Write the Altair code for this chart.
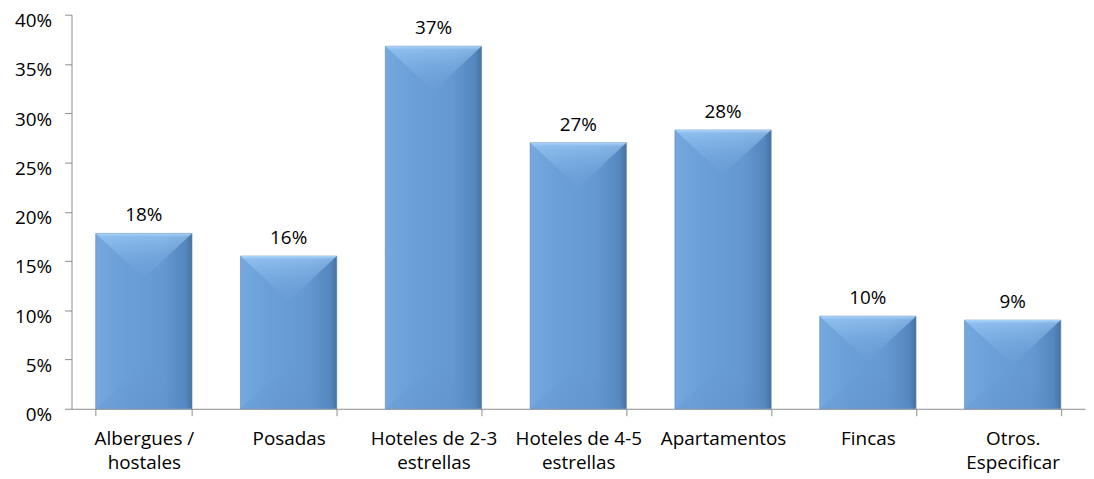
import altair as alt
import pandas as pd

categories = [
    "Albergues / hostales",
    "Posadas",
    "Hoteles de 2-3 estrellas",
    "Hoteles de 4-5 estrellas",
    "Apartamentos",
    "Fincas",
    "Otros. Especificar",
]
axis_labels = [
    "Albergues /|hostales",
    "Posadas",
    "Hoteles de 2-3|estrellas",
    "Hoteles de 4-5|estrellas",
    "Apartamentos",
    "Fincas",
    "Otros.|Especificar",
]
values = [0.178, 0.155, 0.368, 0.270, 0.283, 0.094, 0.090]
value_labels = ["18%", "16%", "37%", "27%", "28%", "10%", "9%"]
y_ticks = [0, 0.05, 0.10, 0.15, 0.20, 0.25, 0.30, 0.35, 0.40]

df = pd.DataFrame({
    "cat": axis_labels,
    "value": values,
    "label": value_labels,
})
df["zero"] = 0.0

FONT = "Open Sans"
FS = 19
FSX = 19

PLOT_W = 1021
PAD_IN = 0.335
PAD_OUT = 0.167
BAR_W = PLOT_W / (len(categories) - PAD_IN + 2 * PAD_OUT) * (1 - PAD_IN)

x = alt.X(
    "cat:N",
    sort=None,
    title=None,
    scale=alt.Scale(paddingInner=PAD_IN, paddingOuter=PAD_OUT),
    axis=alt.Axis(
        labelExpr="split(datum.label, '|')",
        labelAngle=0,
        tickBand="extent",
        tickSize=7,
        labelPadding=14,
        labelFontSize=FSX,
        labelFont=FONT,
        labelColor="#000000",
        labelLineHeight=24,
        domainColor="#8c8c8c",
        tickColor="#8c8c8c",
        labelBaseline="top",
    ),
)
y = alt.Y(
    "value:Q",
    title=None,
    scale=alt.Scale(domain=[0, 0.4], nice=False),
    axis=alt.Axis(
        values=y_ticks,
        format=".0%",
        grid=False,
        tickSize=7,
        labelPadding=13,
        labelBaseline="top",
        labelOffset=-3,
        labelFontSize=FS,
        labelFont=FONT,
        labelColor="#000000",
        domainColor="#8c8c8c",
        tickColor="#8c8c8c",
    ),
)

base_grad = alt.Gradient(
    gradient="linear",
    x1=0, x2=1, y1=0, y2=0,
    stops=[
        alt.GradientStop(color="#74a8df", offset=0),
        alt.GradientStop(color="#6a9fd7", offset=0.3),
        alt.GradientStop(color="#6498d0", offset=0.7),
        alt.GradientStop(color="#5587bf", offset=0.93),
        alt.GradientStop(color="#46729f", offset=1),
    ],
)
top_grad = alt.Gradient(
    gradient="linear",
    x1=0, x2=0, y1=0, y2=1,
    stops=[
        alt.GradientStop(color="rgba(175,215,252,0.95)", offset=0),
        alt.GradientStop(color="rgba(160,205,248,0.6)", offset=0.08),
        alt.GradientStop(color="rgba(140,190,240,0.25)", offset=0.6),
        alt.GradientStop(color="rgba(130,180,235,0.05)", offset=1),
    ],
)
bot_grad = alt.Gradient(
    gradient="linear",
    x1=0, x2=0, y1=0, y2=1,
    stops=[
        alt.GradientStop(color="rgba(90,140,200,0.0)", offset=0),
        alt.GradientStop(color="rgba(90,140,200,0.25)", offset=1),
    ],
)

bars = alt.Chart(df).mark_bar(fill=base_grad, stroke="#5a84b4", strokeWidth=0.6).encode(x=x, y=y)

top_tri = alt.Chart(df).mark_point(
    shape="M-1,0L1,0L0,0.93Z",
    size=BAR_W ** 2,
    filled=True,
    fill=top_grad,
    opacity=1,
    strokeWidth=0,
).encode(x=x, y=alt.Y("value:Q", title=None))

bot_tri = alt.Chart(df).mark_point(
    shape="M-1,0L1,0L0,-0.93Z",
    size=BAR_W ** 2,
    filled=True,
    fill=bot_grad,
    opacity=1,
    strokeWidth=0,
).encode(x=x, y=alt.Y("zero:Q", title=None))

text = alt.Chart(df).mark_text(
    baseline="alphabetic", dy=-12, fontSize=FS, font=FONT, color="#000000"
).encode(x=x, y=alt.Y("value:Q", title=None), text="label:N")

chart = (
    alt.layer(bars, top_tri, bot_tri, text)
    .properties(
        width=PLOT_W,
        height=397,
        autosize=alt.AutoSizeParams(type="none"),
        padding={"left": 64, "top": 5, "right": 1, "bottom": 68},
        background="#ffffff",
    )
    .configure_view(stroke=None)
)

chart.save("out.html", embed_options={"renderer": "svg", "actions": False})
